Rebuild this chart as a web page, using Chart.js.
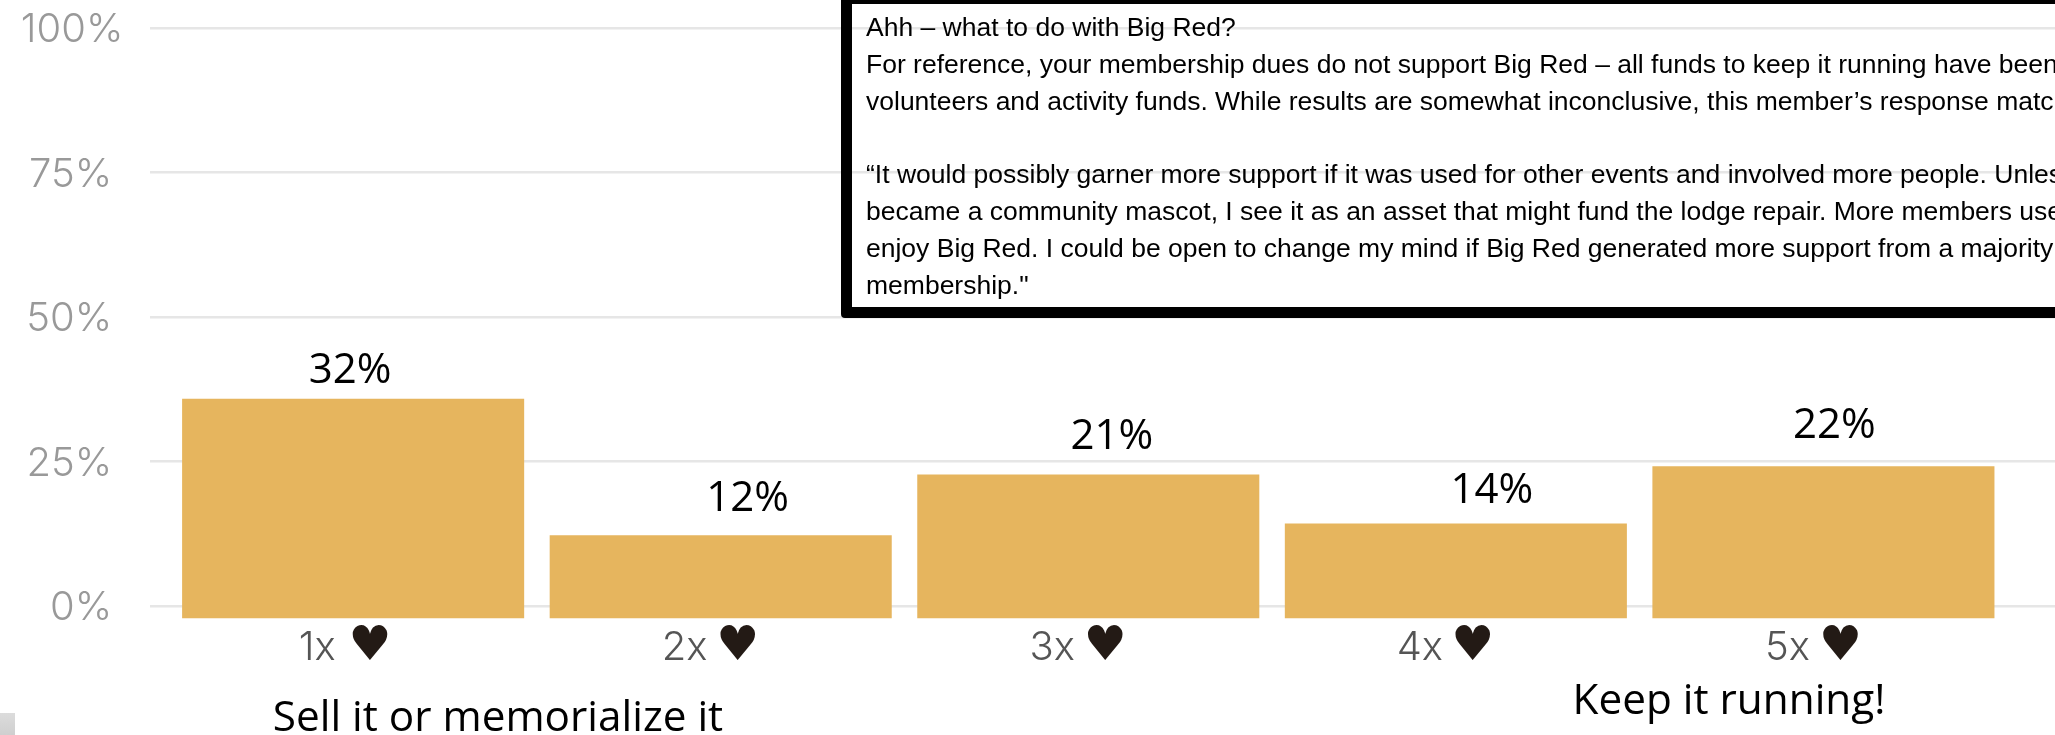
<!DOCTYPE html>
<html><head><meta charset="utf-8">
<style>
html,body{margin:0;padding:0;background:#fff;width:2055px;height:735px;overflow:hidden}
#wrap{position:relative;width:2055px;height:735px;overflow:hidden}
canvas{position:absolute;left:0;top:0}
#box{position:absolute;left:841px;top:-7px;width:1400px;height:303px;border:11.5px solid #000;border-radius:4px;background:transparent}
#txt{position:absolute;left:866px;top:9px;font:26.5px/36.8px "Liberation Sans",Arial,sans-serif;color:#000;white-space:pre;width:1189px;overflow:hidden}
#swatch{position:absolute;left:0;top:713px;width:15px;height:22px;background:linear-gradient(#dcdcdc,#cfcfcf)}
</style></head><body>
<div id="wrap">
<canvas id="c" width="2055" height="735" style="width:2055px;height:735px"></canvas>
<div id="box"></div>
<div id="txt"></div>
<div id="swatch"></div>
</div>
<script src="https://cdn.jsdelivr.net/npm/chart.js@4"></script>
<script>
const positions = [1, 2, 3, 4, 5];
const tickLabels = ["1x", "2x", "3x", "4x", "5x"];
const barValues = [35.9, 12.3, 22.8, 14.3, 24.2];
const valueLabels = ["32%", "12%", "21%", "14%", "22%"];
const yTicks = [0, 25, 50, 75, 100];
const noteLines = [
 "Ahh \u2013 what to do with Big Red?",
 "For reference, your membership dues do not support Big Red \u2013 all funds to keep it running have been",
 "volunteers and activity funds. While results are somewhat inconclusive, this member\u2019s response matc",
 "",
 "\u201CIt would possibly garner more support if it was used for other events and involved more people. Unles",
 "became a community mascot, I see it as an asset that might fund the lodge repair. More members use",
 "enjoy Big Red. I could be open to change my mind if Big Red generated more support from a majority",
 "membership.\""
];
document.getElementById('txt').textContent = noteLines.join("\n");

const labelDx = [-3, 27, 23.5, 36, 11];
const labelDy = [27.5, 36, 37, 33, 40];

const overlay = {
  id: 'overlay',
  afterDraw(chart) {
    const {ctx, scales: {x, y}} = chart;
    ctx.save();
    ctx.textAlign = 'center';
    ctx.textBaseline = 'middle';
    ctx.fillStyle = '#000';
    ctx.font = '42px "Open Sans"';
    valueLabels.forEach((t, i) => {
      ctx.fillText(t, x.getPixelForValue(positions[i]) + labelDx[i], y.getPixelForValue(barValues[i]) - labelDy[i]);
    });
    ctx.fillStyle = '#231a15';
    ctx.font = '48px "DejaVu Sans"';
    positions.forEach(p => ctx.fillText('\u2665', x.getPixelForValue(p) + 17, 648));
    ctx.fillStyle = '#000';
    ctx.font = '42.3px "Open Sans"';
    ctx.fillText('Sell it or memorialize it', 498, 719);
    ctx.fillText('Keep it running!', 1729, 702);
    ctx.restore();
  }
};

new Chart(document.getElementById('c'), {
  type: 'bar',
  data: {
    datasets: [{
      data: positions.map((p, i) => ({x: p, y: barValues[i]})),
      base: -2.1,
      backgroundColor: '#E6B55E',
      borderWidth: 0,
      barPercentage: 0.9306,
      categoryPercentage: 1
    }]
  },
  options: {
    responsive: false,
    animation: false,
    layout: {padding: {top: 28.1, left: 0, right: 0, bottom: 0}},
    plugins: {legend: {display: false}, tooltip: {enabled: false}},
    scales: {
      x: {
        type: 'linear', min: 0.446, max: 5.63, offset: false,
        afterBuildTicks: s => { s.ticks = positions.map(v => ({value: v})); },
        afterFit: s => { s.height = 116.6; s.paddingLeft = 0; s.paddingRight = 0; },
        grid: {display: false, offset: false},
        border: {display: false},
        ticks: {
          callback: v => tickLabels[v - 1],
          autoSkip: false, maxRotation: 0, labelOffset: -36, padding: -2,
          color: '#555', font: {family: 'Inter', size: 40, weight: 300}
        }
      },
      y: {
        type: 'linear', min: -2.1, max: 100,
        afterBuildTicks: s => { s.ticks = yTicks.map(v => ({value: v})); },
        afterFit: s => { s.width = 149.5; s.paddingTop = 0; s.paddingBottom = 0; },
        grid: {color: '#e6e6e6', lineWidth: 2.5, drawTicks: false},
        border: {display: false},
        ticks: {
          callback: v => v === 100 ? v + '%' : v + '% ',
          padding: 26, labelOffset: 2,
          color: '#999', font: {family: 'Inter', size: 40, weight: 300}
        }
      }
    }
  },
  plugins: [overlay]
});
</script>
</body></html>
